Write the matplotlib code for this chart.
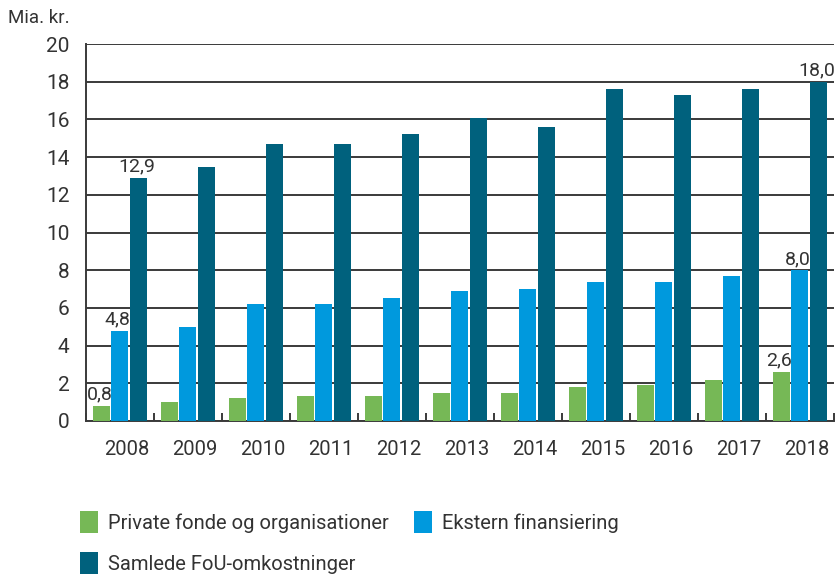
import matplotlib
matplotlib.use("Agg")
import matplotlib.pyplot as plt
import numpy as np

years = ["2008", "2009", "2010", "2011", "2012", "2013", "2014", "2015", "2016", "2017", "2018"]
private = [0.8, 1.0, 1.2, 1.3, 1.3, 1.5, 1.5, 1.8, 1.9, 2.2, 2.6]
ekstern = [4.8, 5.0, 6.2, 6.2, 6.5, 6.9, 7.0, 7.4, 7.4, 7.7, 8.0]
samlede = [12.9, 13.5, 14.7, 14.7, 15.2, 16.1, 15.6, 17.6, 17.3, 17.6, 18.0]
series_names = ["Private fonde og organisationer", "Ekstern finansiering", "Samlede FoU-omkostninger"]
labels_shown = {0: [0, 10], 1: [0, 10], 2: [0, 10]}

colors = ["#76B856", "#0099DD", "#00617D"]
txt = "#333333"
plt.rcParams['font.family'] = ['Roboto', 'DejaVu Sans']

fig = plt.figure(figsize=(8.36, 5.79), dpi=100)
ax = fig.add_axes([86/836, 1-421/579, 748/836, 377/579])

x = np.arange(len(years))
offsets = [0.228, 0.493, 0.772]
w = 0.25
data = [private, ekstern, samlede]
handles = []
for k, (vals, off) in enumerate(zip(data, offsets)):
    b = ax.bar(x + off, vals, width=w, color=colors[k], zorder=3, label=series_names[k])
    handles.append(b)
    for i in labels_shown[k]:
        ax.text(x[i] + off - 0.03, vals[i] + 0.12, f"{vals[i]:.1f}".replace(".", ","),
                ha="center", va="bottom", fontsize=14, color=txt, zorder=4)

ax.set_xlim(0, len(years))
ax.set_ylim(0, 20)
ax.set_yticks(np.arange(0, 21, 2))
ax.set_yticklabels([str(v) for v in range(0, 21, 2)], fontsize=15, color=txt)
ax.yaxis.grid(True, color="#3a3a3a", linewidth=1.4, zorder=0)
ax.tick_params(axis="y", length=0, pad=12)

ax.set_xticks(np.arange(0, len(years) + 1))
ax.set_xticklabels([])
ax.set_xticks(x + 0.6, minor=True)
ax.set_xticklabels(years, minor=True, fontsize=14.5, color=txt)
ax.tick_params(axis="x", which="major", direction="in", length=6, width=1.4, color="#3a3a3a")
ax.tick_params(axis="x", which="minor", length=0, pad=14)

for s in ["top", "right"]:
    ax.spines[s].set_visible(False)
for s in ["left", "bottom"]:
    ax.spines[s].set_color("#3a3a3a")
    ax.spines[s].set_linewidth(1.4)

fig.text(8/836, 1-18/579, "Mia. kr.", fontsize=13.5, color=txt, va="center", ha="left")

leg = fig.legend([handles[0], handles[2], handles[1]],
                 [series_names[0], series_names[2], series_names[1]],
                 ncol=2, loc="upper left", bbox_to_anchor=(80/836, 1-511/579),
                 frameon=False, prop={'size': 14.5},
                 borderpad=0, borderaxespad=0,
                 handlelength=0.9, handleheight=1.3,
                 handletextpad=0.5, columnspacing=1.25, labelspacing=0.95)
for t in leg.get_texts():
    t.set_color(txt)

fig.savefig("out.png", dpi=100)
